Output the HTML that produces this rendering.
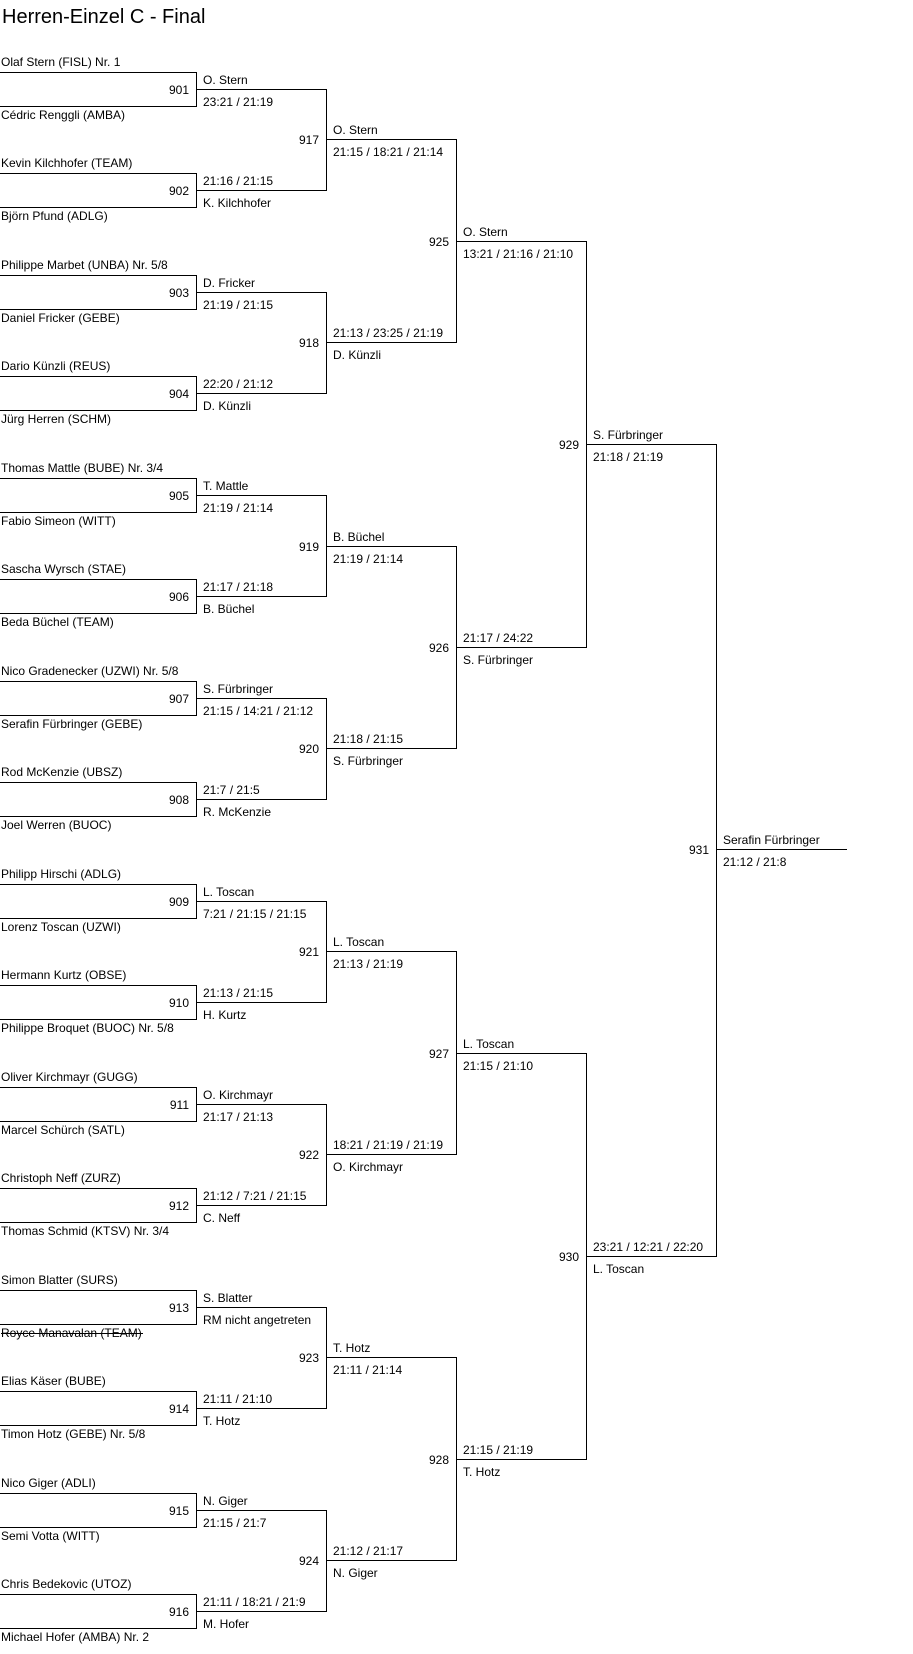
<!DOCTYPE html>
<html><head><meta charset="utf-8"><style>
html,body{margin:0;padding:0;background:#fff;}
svg{display:block;}
text{font-family:"Liberation Sans",Arial,sans-serif;font-size:12px;fill:#000;}
.t{font-size:20px;}
.n{text-anchor:end;}
path{fill:none;stroke:#000;stroke-width:1;shape-rendering:crispEdges;}
</style></head><body>
<svg width="913" height="1654" viewBox="0 0 913 1654" xmlns="http://www.w3.org/2000/svg">
<text class="t" x="2" y="23">Herren-Einzel C - Final</text>

<!-- Round 1 boxes -->
<path d="M0 72.5H196.5V106.5H0 M196 89.5H326"/>
<path d="M0 173.5H196.5V207.5H0 M196 190.5H326"/>
<path d="M0 275.5H196.5V309.5H0 M196 292.5H326"/>
<path d="M0 376.5H196.5V410.5H0 M196 393.5H326"/>
<path d="M0 478.5H196.5V512.5H0 M196 495.5H326"/>
<path d="M0 579.5H196.5V613.5H0 M196 596.5H326"/>
<path d="M0 681.5H196.5V715.5H0 M196 698.5H326"/>
<path d="M0 782.5H196.5V816.5H0 M196 799.5H326"/>
<path d="M0 884.5H196.5V918.5H0 M196 901.5H326"/>
<path d="M0 985.5H196.5V1019.5H0 M196 1002.5H326"/>
<path d="M0 1087.5H196.5V1121.5H0 M196 1104.5H326"/>
<path d="M0 1188.5H196.5V1222.5H0 M196 1205.5H326"/>
<path d="M0 1290.5H196.5V1324.5H0 M196 1307.5H326"/>
<path d="M0 1391.5H196.5V1425.5H0 M196 1408.5H326"/>
<path d="M0 1493.5H196.5V1527.5H0 M196 1510.5H326"/>
<path d="M0 1594.5H196.5V1628.5H0 M196 1611.5H326"/>

<!-- Round 2 -->
<path d="M326.5 89V191 M326 139.5H456"/>
<path d="M326.5 292V394 M326 342.5H456"/>
<path d="M326.5 495V597 M326 546.5H456"/>
<path d="M326.5 698V800 M326 748.5H456"/>
<path d="M326.5 901V1003 M326 951.5H456"/>
<path d="M326.5 1104V1206 M326 1154.5H456"/>
<path d="M326.5 1307V1409 M326 1357.5H456"/>
<path d="M326.5 1510V1612 M326 1560.5H456"/>
<!-- Round 3 -->
<path d="M456.5 139V343 M456 241.5H586"/>
<path d="M456.5 546V749 M456 647.5H586"/>
<path d="M456.5 951V1155 M456 1053.5H586"/>
<path d="M456.5 1357V1561 M456 1459.5H586"/>
<!-- Round 4 -->
<path d="M586.5 241V648 M586 444.5H716"/>
<path d="M586.5 1053V1460 M586 1256.5H716"/>
<!-- Final -->
<path d="M716.5 444V1257 M716 849.5H847"/>

<!-- Player names -->
<text x="1" y="66">Olaf Stern (FISL) Nr. 1</text>
<text x="1" y="119">Cédric Renggli (AMBA)</text>
<text x="1" y="167">Kevin Kilchhofer (TEAM)</text>
<text x="1" y="220">Björn Pfund (ADLG)</text>
<text x="1" y="269">Philippe Marbet (UNBA) Nr. 5/8</text>
<text x="1" y="322">Daniel Fricker (GEBE)</text>
<text x="1" y="370">Dario Künzli (REUS)</text>
<text x="1" y="423">Jürg Herren (SCHM)</text>
<text x="1" y="472">Thomas Mattle (BUBE) Nr. 3/4</text>
<text x="1" y="525">Fabio Simeon (WITT)</text>
<text x="1" y="573">Sascha Wyrsch (STAE)</text>
<text x="1" y="626">Beda Büchel (TEAM)</text>
<text x="1" y="675">Nico Gradenecker (UZWI) Nr. 5/8</text>
<text x="1" y="728">Serafin Fürbringer (GEBE)</text>
<text x="1" y="776">Rod McKenzie (UBSZ)</text>
<text x="1" y="829">Joel Werren (BUOC)</text>
<text x="1" y="878">Philipp Hirschi (ADLG)</text>
<text x="1" y="931">Lorenz Toscan (UZWI)</text>
<text x="1" y="979">Hermann Kurtz (OBSE)</text>
<text x="1" y="1032">Philippe Broquet (BUOC) Nr. 5/8</text>
<text x="1" y="1081">Oliver Kirchmayr (GUGG)</text>
<text x="1" y="1134">Marcel Schürch (SATL)</text>
<text x="1" y="1182">Christoph Neff (ZURZ)</text>
<text x="1" y="1235">Thomas Schmid (KTSV) Nr. 3/4</text>
<text x="1" y="1284">Simon Blatter (SURS)</text>
<text x="1" y="1337">Royce Manavalan (TEAM)</text>
<path d="M1 1333.5H143"/>
<text x="1" y="1385">Elias Käser (BUBE)</text>
<text x="1" y="1438">Timon Hotz (GEBE) Nr. 5/8</text>
<text x="1" y="1487">Nico Giger (ADLI)</text>
<text x="1" y="1540">Semi Votta (WITT)</text>
<text x="1" y="1588">Chris Bedekovic (UTOZ)</text>
<text x="1" y="1641">Michael Hofer (AMBA) Nr. 2</text>

<!-- Round 1 labels -->
<text class="n" x="189" y="94">901</text><text x="203" y="84">O. Stern</text><text x="203" y="106">23:21 / 21:19</text>
<text class="n" x="189" y="195">902</text><text x="203" y="185">21:16 / 21:15</text><text x="203" y="207">K. Kilchhofer</text>
<text class="n" x="189" y="297">903</text><text x="203" y="287">D. Fricker</text><text x="203" y="309">21:19 / 21:15</text>
<text class="n" x="189" y="398">904</text><text x="203" y="388">22:20 / 21:12</text><text x="203" y="410">D. Künzli</text>
<text class="n" x="189" y="500">905</text><text x="203" y="490">T. Mattle</text><text x="203" y="512">21:19 / 21:14</text>
<text class="n" x="189" y="601">906</text><text x="203" y="591">21:17 / 21:18</text><text x="203" y="613">B. Büchel</text>
<text class="n" x="189" y="703">907</text><text x="203" y="693">S. Fürbringer</text><text x="203" y="715">21:15 / 14:21 / 21:12</text>
<text class="n" x="189" y="804">908</text><text x="203" y="794">21:7 / 21:5</text><text x="203" y="816">R. McKenzie</text>
<text class="n" x="189" y="906">909</text><text x="203" y="896">L. Toscan</text><text x="203" y="918">7:21 / 21:15 / 21:15</text>
<text class="n" x="189" y="1007">910</text><text x="203" y="997">21:13 / 21:15</text><text x="203" y="1019">H. Kurtz</text>
<text class="n" x="189" y="1109">911</text><text x="203" y="1099">O. Kirchmayr</text><text x="203" y="1121">21:17 / 21:13</text>
<text class="n" x="189" y="1210">912</text><text x="203" y="1200">21:12 / 7:21 / 21:15</text><text x="203" y="1222">C. Neff</text>
<text class="n" x="189" y="1312">913</text><text x="203" y="1302">S. Blatter</text><text x="203" y="1324">RM nicht angetreten</text>
<text class="n" x="189" y="1413">914</text><text x="203" y="1403">21:11 / 21:10</text><text x="203" y="1425">T. Hotz</text>
<text class="n" x="189" y="1515">915</text><text x="203" y="1505">N. Giger</text><text x="203" y="1527">21:15 / 21:7</text>
<text class="n" x="189" y="1616">916</text><text x="203" y="1606">21:11 / 18:21 / 21:9</text><text x="203" y="1628">M. Hofer</text>

<!-- Round 2 labels -->
<text class="n" x="319" y="144">917</text><text x="333" y="134">O. Stern</text><text x="333" y="156">21:15 / 18:21 / 21:14</text>
<text class="n" x="319" y="347">918</text><text x="333" y="337">21:13 / 23:25 / 21:19</text><text x="333" y="359">D. Künzli</text>
<text class="n" x="319" y="551">919</text><text x="333" y="541">B. Büchel</text><text x="333" y="563">21:19 / 21:14</text>
<text class="n" x="319" y="753">920</text><text x="333" y="743">21:18 / 21:15</text><text x="333" y="765">S. Fürbringer</text>
<text class="n" x="319" y="956">921</text><text x="333" y="946">L. Toscan</text><text x="333" y="968">21:13 / 21:19</text>
<text class="n" x="319" y="1159">922</text><text x="333" y="1149">18:21 / 21:19 / 21:19</text><text x="333" y="1171">O. Kirchmayr</text>
<text class="n" x="319" y="1362">923</text><text x="333" y="1352">T. Hotz</text><text x="333" y="1374">21:11 / 21:14</text>
<text class="n" x="319" y="1565">924</text><text x="333" y="1555">21:12 / 21:17</text><text x="333" y="1577">N. Giger</text>

<!-- Round 3 labels -->
<text class="n" x="449" y="246">925</text><text x="463" y="236">O. Stern</text><text x="463" y="258">13:21 / 21:16 / 21:10</text>
<text class="n" x="449" y="652">926</text><text x="463" y="642">21:17 / 24:22</text><text x="463" y="664">S. Fürbringer</text>
<text class="n" x="449" y="1058">927</text><text x="463" y="1048">L. Toscan</text><text x="463" y="1070">21:15 / 21:10</text>
<text class="n" x="449" y="1464">928</text><text x="463" y="1454">21:15 / 21:19</text><text x="463" y="1476">T. Hotz</text>

<!-- Round 4 labels -->
<text class="n" x="579" y="449">929</text><text x="593" y="439">S. Fürbringer</text><text x="593" y="461">21:18 / 21:19</text>
<text class="n" x="579" y="1261">930</text><text x="593" y="1251">23:21 / 12:21 / 22:20</text><text x="593" y="1273">L. Toscan</text>

<!-- Final -->
<text class="n" x="709" y="854">931</text><text x="723" y="844">Serafin Fürbringer</text><text x="723" y="866">21:12 / 21:8</text>
</svg>
</body></html>
